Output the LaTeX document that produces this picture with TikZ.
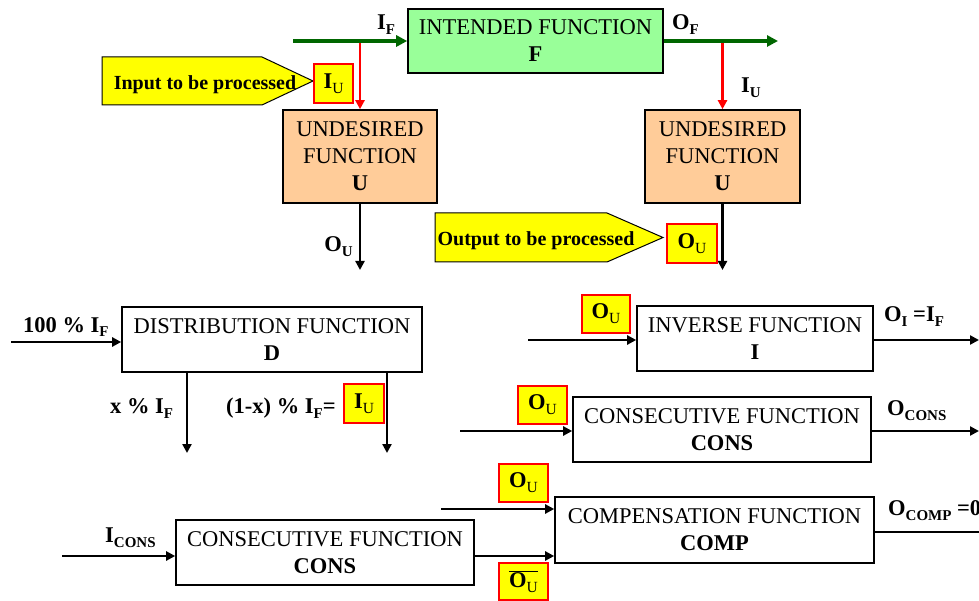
\documentclass[tikz,border=0pt]{standalone}
\usepackage{fontspec}
\setmainfont{Liberation Serif}
\usetikzlibrary{arrows.meta,calc}
\definecolor{fgreen}{RGB}{153,255,153}
\definecolor{peach}{RGB}{255,204,153}
\definecolor{dgreen}{RGB}{0,102,0}
\definecolor{yel}{RGB}{255,255,0}
\newcommand{\lsub}[1]{\raisebox{-5pt}{\fontsize{15}{15}\selectfont #1}}
\newcommand{\lsubr}[1]{\raisebox{-5pt}{\fontsize{15.5}{15.5}\selectfont\mdseries #1}}
\begin{document}
\begin{tikzpicture}[x=1pt,y=-1pt,
  fbox/.style={draw=black, line width=1.6pt, inner sep=0pt, align=center, font=\fontsize{22.5}{27}\selectfont},
  ybox/.style={draw=red, fill=yel, line width=1.2pt, inner sep=0pt, font=\fontsize{22.5}{22.5}\selectfont\bfseries},
  lbl/.style={inner sep=0pt, font=\fontsize{22.5}{22.5}\selectfont\bfseries},
  ptxt/.style={inner sep=0pt, font=\fontsize{20}{20}\selectfont\bfseries},
  arr/.style={line width=2.8pt, -{Triangle[length=9pt,width=9pt]}},
  garr/.style={draw=dgreen, line width=3.8pt, -{Triangle[length=11pt,width=11pt]}},
  rarr/.style={draw=red, line width=2.5pt, -{Triangle[length=9pt,width=9pt]}},
  pent/.style={draw=black, fill=yel, line width=1pt}]
\useasboundingbox (0,0) rectangle (979,601);

% ---------- top part ----------
\node[fbox, fill=fgreen, minimum width=255pt, minimum height=64pt] (F) at (535.5,41) {INTENDED FUNCTION\\\textbf{F}};
\node[fbox, fill=peach, minimum width=154pt, minimum height=93pt] (UL) at (360,156.5) {UNDESIRED\\FUNCTION\\\textbf{U}};
\node[fbox, fill=peach, minimum width=155pt, minimum height=93pt] (UR) at (722.5,156.5) {UNDESIRED\\FUNCTION\\\textbf{U}};
\coordinate (gin) at (293,41);
\coordinate (gout) at (778,41);
\draw[rarr] (UL.north |- gin) -- (UL.north);
\draw[rarr] (UR.north |- gin) -- (UR.north);
\draw[garr] (gin) -- (F.west);
\draw[garr] (F.east) -- (gout);
\node[lbl, anchor=base west] (lIF) at (377,30) {I\lsub{F}};
\node[lbl, anchor=base west] (lOF) at (672,30) {O\lsub{F}};
\node[lbl, anchor=base west] (lIU) at (741,93) {I\lsub{U}};

\coordinate (ULd) at (360,270);
\coordinate (URd) at (722.5,270);
\draw[arr] (UL.south) -- (ULd);
\draw[arr] (UR.south) -- (URd);
\node[lbl, anchor=base east] (lOU) at (353,252) {O\lsub{U}};

\draw[pent] (102,57) -- (262,57) -- (313,81) -- (262,105) -- (102,105) -- cycle;
\node[ptxt, anchor=base] (tin) at (205,90) {Input to be processed};
\node[ybox, minimum width=39pt, minimum height=39pt] (IU1) at (333.5,83.5) {I\lsubr{U}};

\draw[pent] (435,213) -- (607,213) -- (663,237.5) -- (607,262) -- (435,262) -- cycle;
\node[ptxt, anchor=base] (tout) at (536,246) {Output to be processed};
\node[ybox, minimum width=50pt, minimum height=39pt] (OU1) at (692,243.5) {O\lsubr{U}};

% ---------- distribution ----------
\node[fbox, minimum width=300pt, minimum height=65pt] (D) at (272,339.5) {DISTRIBUTION FUNCTION\\\textbf{D}};
\coordinate (Din) at (11,342);
\coordinate (Dx) at (187,453);
\coordinate (Dy) at (387,453);
\draw[arr] (Din) -- (D.west |- Din);
\draw[arr] (D.south -| Dx) -- (Dx);
\draw[arr] (D.south -| Dy) -- (Dy);
\node[lbl, anchor=base west] (l100) at (23,332) {100 \% I\lsub{F}};
\node[lbl, anchor=base west] (lx) at (110,413) {x \% I\lsub{F}};
\node[lbl, anchor=base west] (l1x) at (226,413) {(1-x) \% I\lsub{F}=};
\node[ybox, minimum width=40pt, minimum height=39pt] (IU2) at (364,403.5) {I\lsubr{U}};

% ---------- inverse ----------
\node[fbox, minimum width=236pt, minimum height=65pt] (INV) at (755,338.5) {INVERSE FUNCTION\\\textbf{I}};
\coordinate (INVin) at (528,340);
\coordinate (INVout) at (979,340);
\draw[arr] (INVin) -- (INV.west |- INVin);
\draw[arr] (INV.east |- INVout) -- (INVout);
\node[ybox, minimum width=48pt, minimum height=38pt] (OU2) at (606,314) {O\lsubr{U}};
\node[lbl, anchor=base west] (lOI) at (884,322) {O\lsub{I} =I\lsub{F}};

% ---------- consecutive (right) ----------
\node[fbox, minimum width=298pt, minimum height=65pt] (CR) at (722,429.5) {CONSECUTIVE FUNCTION\\\textbf{CONS}};
\coordinate (CRin) at (460,431);
\coordinate (CRout) at (979,431);
\draw[arr] (CRin) -- (CR.west |- CRin);
\draw[arr] (CR.east |- CRout) -- (CRout);
\node[ybox, minimum width=49pt, minimum height=38pt] (OU3) at (542.5,405) {O\lsubr{U}};
\node[lbl, anchor=base west] (lOC) at (887,415) {O\lsub{CONS}};

% ---------- compensation ----------
\node[fbox, minimum width=319pt, minimum height=66pt] (COMP) at (714.5,530) {COMPENSATION FUNCTION\\\textbf{COMP}};
\node[fbox, minimum width=298pt, minimum height=65pt] (CB) at (325,552.5) {CONSECUTIVE FUNCTION\\\textbf{CONS}};
\coordinate (CBin) at (62,556);
\coordinate (COin) at (441,509);
\coordinate (COout) at (979,532);
\draw[arr] (CBin) -- (CB.west |- CBin);
\draw[arr] (COin) -- (COMP.west |- COin);
\draw[arr] (CB.east |- CBin) -- (COMP.west |- CBin);
\draw[line width=2.8pt] (COMP.east |- COout) -- (COout);
\node[lbl, anchor=base west] (lIC) at (105,542) {I\lsub{CONS}};
\node[ybox, minimum width=49pt, minimum height=38pt] (OU4) at (523.5,483) {O\lsubr{U}};
\node[ybox, minimum width=49pt, minimum height=37pt] (OU5) at (523.5,581.5) {$\overline{\hbox{O\lsubr{U}}}$};
\node[lbl, anchor=base west] (lOP) at (888,515) {O\lsub{COMP} =0};
\end{tikzpicture}
\end{document}
